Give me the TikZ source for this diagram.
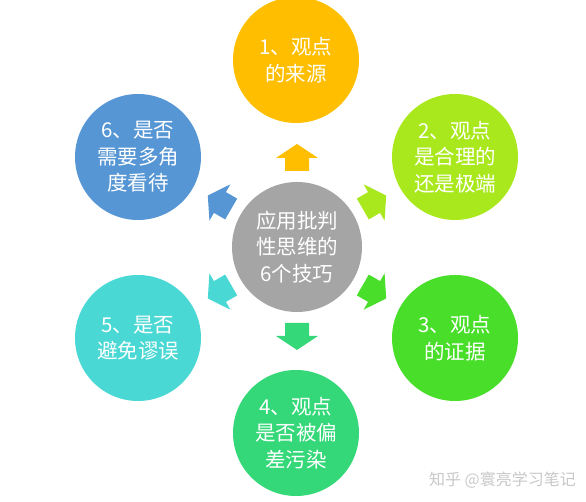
\documentclass[tikz,border=0pt]{standalone}
\usepackage{fontspec}
\usepackage{xcolor}
\newfontfamily\cjk{Noto Sans CJK SC}
\usetikzlibrary{arrows,shapes}
\definecolor{tipA}{RGB}{255,190,0}
\definecolor{tipB}{RGB}{170,232,30}
\definecolor{tipC}{RGB}{72,222,42}
\definecolor{tipD}{RGB}{52,216,120}
\definecolor{tipE}{RGB}{74,216,212}
\definecolor{tipF}{RGB}{86,150,212}
\definecolor{hubgray}{RGB}{165,165,165}
\definecolor{wmgray}{RGB}{200,200,200}
\tikzstyle{bubble}=[circle,minimum size=126pt,inner sep=0pt,text=white,align=center,font=\cjk\fontsize{20.5}{26.5}\selectfont]
\tikzstyle{hub} = [bubble, minimum size=130pt, fill=hubgray]
\tikzstyle{wmark} = [text=wmgray, font=\cjk\fontsize{16}{18}\selectfont, inner sep=0pt]

\begin{document}
\begin{tikzpicture}[x=1pt,y=1pt]
    \useasboundingbox (0,0) rectangle (586,502);
    % The hub in the middle
    \node[hub] (hub) at (297,255) {应用批判\\性思维的\\6个技巧};

    % Then the six tips round it
    \foreach \pos/\name/\col/\txt in {{(296,442)/t1/tipA/{1、观点\\的来源}},
        {(455,345)/t2/tipB/{2、观点\\是合理的\\还是极端}},
        {(455,164)/t3/tipC/{3、观点\\的证据}},
        {(296,69)/t4/tipD/{4、观点\\是否被偏\\差污染}},
        {(138,164)/t5/tipE/{5、是否\\避免谬误}},
        {(138,345)/t6/tipF/{6、是否\\需要多角\\度看待}}}
        \node[bubble,fill=\col] (\name) at \pos {\txt};

    % Block arrows from the hub out to each tip
    \foreach \ang/\col in {90/tipA,30/tipB,-30/tipC,-90/tipD,210/tipE,150/tipF}
        \fill[\col,shift={(hub.center)},rotate=\ang] (76,-12) -- (89,-12) -- (89,-21)
            -- (103,0) -- (89,21) -- (89,12) -- (76,12) -- cycle;

    \node[wmark,anchor=east] (wm) at (576,22) {知乎 @寰亮学习笔记};
\end{tikzpicture}
\end{document}
